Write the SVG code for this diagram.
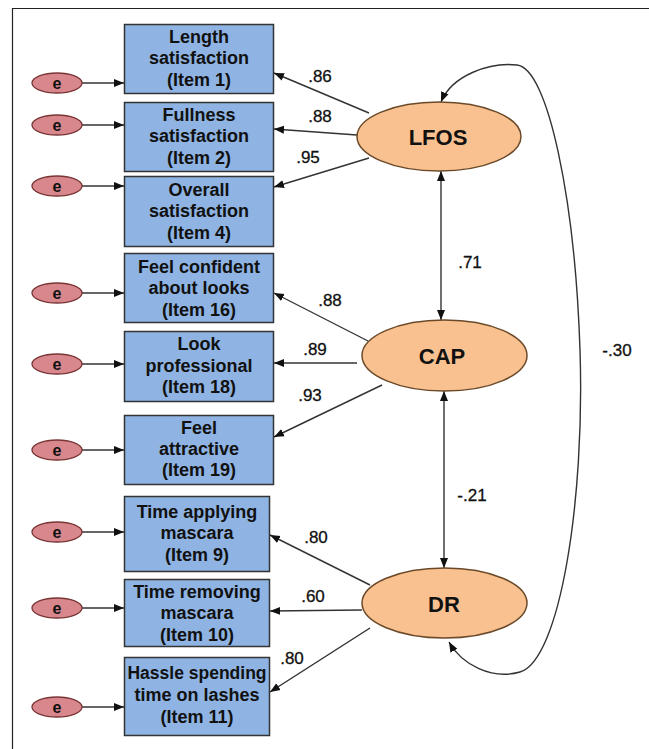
<svg xmlns="http://www.w3.org/2000/svg" width="649" height="749" viewBox="0 0 649 749">
<defs>
<marker id="ah" viewBox="0 0 10 10" refX="10" refY="5" markerWidth="10" markerHeight="10" markerUnits="userSpaceOnUse" orient="auto-start-reverse">
<path d="M0,1 L10,5 L0,9 Z" fill="#111"/>
</marker>
<style>
.box{fill:#8fb4e3;stroke:#333;stroke-width:1.5}
.err{fill:#d8878d;stroke:#7a3535;stroke-width:1.3}
.lat{fill:#f9c18f;stroke:#6b4a2a;stroke-width:1.5}
.bt{font-family:"Liberation Sans",Arial,sans-serif;font-weight:bold;font-size:18px;fill:#111;text-anchor:middle;dominant-baseline:central}
.et{font-family:"Liberation Sans",Arial,sans-serif;font-weight:bold;font-size:16px;fill:#111;text-anchor:middle;dominant-baseline:central}
.lt{font-family:"Liberation Sans",Arial,sans-serif;font-weight:bold;font-size:22px;fill:#111;text-anchor:middle;dominant-baseline:central}
.nt{font-family:"Liberation Sans",Arial,sans-serif;font-size:17px;fill:#111;text-anchor:middle;dominant-baseline:central;stroke:#111;stroke-width:0.3}
.c{stroke:#333;stroke-width:1.4;fill:none}
</style>
</defs>
<rect width="649" height="749" fill="#fff"/>
<path d="M12.5,749 V8.5 H649" fill="none" stroke="#222" stroke-width="1.2"/>

<g id="connectors">
<line class="c" x1="82" y1="83" x2="124" y2="83" marker-end="url(#ah)"/>
<line class="c" x1="82" y1="125" x2="124" y2="125" marker-end="url(#ah)"/>
<line class="c" x1="82" y1="186" x2="124" y2="186" marker-end="url(#ah)"/>
<line class="c" x1="82" y1="293" x2="124" y2="293" marker-end="url(#ah)"/>
<line class="c" x1="82" y1="364" x2="124" y2="364" marker-end="url(#ah)"/>
<line class="c" x1="82" y1="450" x2="124" y2="450" marker-end="url(#ah)"/>
<line class="c" x1="82" y1="532" x2="124" y2="532" marker-end="url(#ah)"/>
<line class="c" x1="82" y1="608" x2="124" y2="608" marker-end="url(#ah)"/>
<line class="c" x1="82" y1="707" x2="124" y2="707" marker-end="url(#ah)"/>

<line class="c" x1="369" y1="113" x2="274" y2="73" marker-end="url(#ah)"/>
<line class="c" x1="357" y1="135" x2="274" y2="129" marker-end="url(#ah)"/>
<line class="c" x1="369" y1="158" x2="274" y2="187" marker-end="url(#ah)"/>

<line class="c" x1="368" y1="341" x2="274" y2="293" marker-end="url(#ah)"/>
<line class="c" x1="357" y1="363" x2="274" y2="363" marker-end="url(#ah)"/>
<line class="c" x1="382" y1="385" x2="274" y2="437" marker-end="url(#ah)"/>

<line class="c" x1="370" y1="585" x2="270" y2="535" marker-end="url(#ah)"/>
<line class="c" x1="362" y1="610" x2="270" y2="611" marker-end="url(#ah)"/>
<line class="c" x1="370" y1="628" x2="270" y2="692" marker-end="url(#ah)"/>

<line class="c" x1="441" y1="171" x2="441" y2="320" marker-start="url(#ah)" marker-end="url(#ah)"/>
<line class="c" x1="444" y1="391" x2="444" y2="568" marker-start="url(#ah)" marker-end="url(#ah)"/>

<path class="c" d="M441,102 C452,75 490,62 517,65 C548,68 575,200 580,350 C585,500 560,660 520,672 C492,680 462,665 449,642" marker-start="url(#ah)" marker-end="url(#ah)"/>

<text class="nt" x="320" y="76">.86</text>
<text class="nt" x="320" y="116">.88</text>
<text class="nt" x="308" y="157">.95</text>
<text class="nt" x="470" y="262">.71</text>
<text class="nt" x="330" y="300">.88</text>
<text class="nt" x="315" y="349">.89</text>
<text class="nt" x="310" y="395">.93</text>
<text class="nt" x="472" y="495">-.21</text>
<text class="nt" x="316" y="537">.80</text>
<text class="nt" x="313" y="596">.60</text>
<text class="nt" x="292" y="658">.80</text>
<text class="nt" x="617" y="350">-.30</text>
</g>

<g id="e1"><ellipse class="err" cx="57" cy="83" rx="25" ry="10"/><text class="et" x="57" y="83">e</text></g>
<g id="e2"><ellipse class="err" cx="57" cy="125" rx="25" ry="10"/><text class="et" x="57" y="125">e</text></g>
<g id="e3"><ellipse class="err" cx="57" cy="186" rx="25" ry="10"/><text class="et" x="57" y="186">e</text></g>
<g id="e4"><ellipse class="err" cx="57" cy="293" rx="25" ry="10"/><text class="et" x="57" y="293">e</text></g>
<g id="e5"><ellipse class="err" cx="57" cy="364" rx="25" ry="10"/><text class="et" x="57" y="364">e</text></g>
<g id="e6"><ellipse class="err" cx="57" cy="450" rx="25" ry="10"/><text class="et" x="57" y="450">e</text></g>
<g id="e7"><ellipse class="err" cx="57" cy="532" rx="25" ry="10"/><text class="et" x="57" y="532">e</text></g>
<g id="e8"><ellipse class="err" cx="57" cy="608" rx="25" ry="10"/><text class="et" x="57" y="608">e</text></g>
<g id="e9"><ellipse class="err" cx="57" cy="707" rx="25" ry="10"/><text class="et" x="57" y="707">e</text></g>

<g id="item1"><rect class="box" x="124.5" y="24.5" width="149" height="69"/>
<text class="bt" x="199" y="37">Length</text><text class="bt" x="199" y="58">satisfaction</text><text class="bt" x="199" y="80">(Item 1)</text></g>
<g id="item2"><rect class="box" x="124.5" y="102.5" width="149" height="69"/>
<text class="bt" x="199" y="115">Fullness</text><text class="bt" x="199" y="136">satisfaction</text><text class="bt" x="199" y="158">(Item 2)</text></g>
<g id="item4"><rect class="box" x="124.5" y="176.5" width="149" height="70"/>
<text class="bt" x="199" y="190">Overall</text><text class="bt" x="199" y="211">satisfaction</text><text class="bt" x="199" y="233">(Item 4)</text></g>
<g id="item16"><rect class="box" x="124.5" y="253.5" width="149" height="69"/>
<text class="bt" x="199" y="267">Feel confident</text><text class="bt" x="199" y="288">about looks</text><text class="bt" x="199" y="310">(Item 16)</text></g>
<g id="item18"><rect class="box" x="124.5" y="331.5" width="149" height="70"/>
<text class="bt" x="199" y="344">Look</text><text class="bt" x="199" y="366">professional</text><text class="bt" x="199" y="387">(Item 18)</text></g>
<g id="item19"><rect class="box" x="124.5" y="415.5" width="149" height="69"/>
<text class="bt" x="199" y="428">Feel</text><text class="bt" x="199" y="449">attractive</text><text class="bt" x="199" y="470">(Item 19)</text></g>
<g id="item9"><rect class="box" x="124.5" y="496.5" width="145" height="75"/>
<text class="bt" x="197" y="512">Time applying</text><text class="bt" x="197" y="533">mascara</text><text class="bt" x="197" y="555">(Item 9)</text></g>
<g id="item10"><rect class="box" x="124.5" y="579.5" width="145" height="67"/>
<text class="bt" x="197" y="592">Time removing</text><text class="bt" x="197" y="613">mascara</text><text class="bt" x="197" y="635">(Item 10)</text></g>
<g id="item11"><rect class="box" x="124.5" y="657.5" width="145" height="78"/>
<text class="bt" x="197" y="673" style="font-size:17.5px">Hassle spending</text><text class="bt" x="197" y="695">time on lashes</text><text class="bt" x="197" y="717">(Item 11)</text></g>

<g id="LFOS"><ellipse class="lat" cx="439" cy="136.5" rx="82" ry="34.5"/><text class="lt" x="438" y="137">LFOS</text></g>
<g id="CAP"><ellipse class="lat" cx="444.5" cy="355.5" rx="82.5" ry="35.5"/><text class="lt" x="442" y="356">CAP</text></g>
<g id="DR"><ellipse class="lat" cx="444.5" cy="603" rx="82.5" ry="35"/><text class="lt" x="444" y="604">DR</text></g>
</svg>
